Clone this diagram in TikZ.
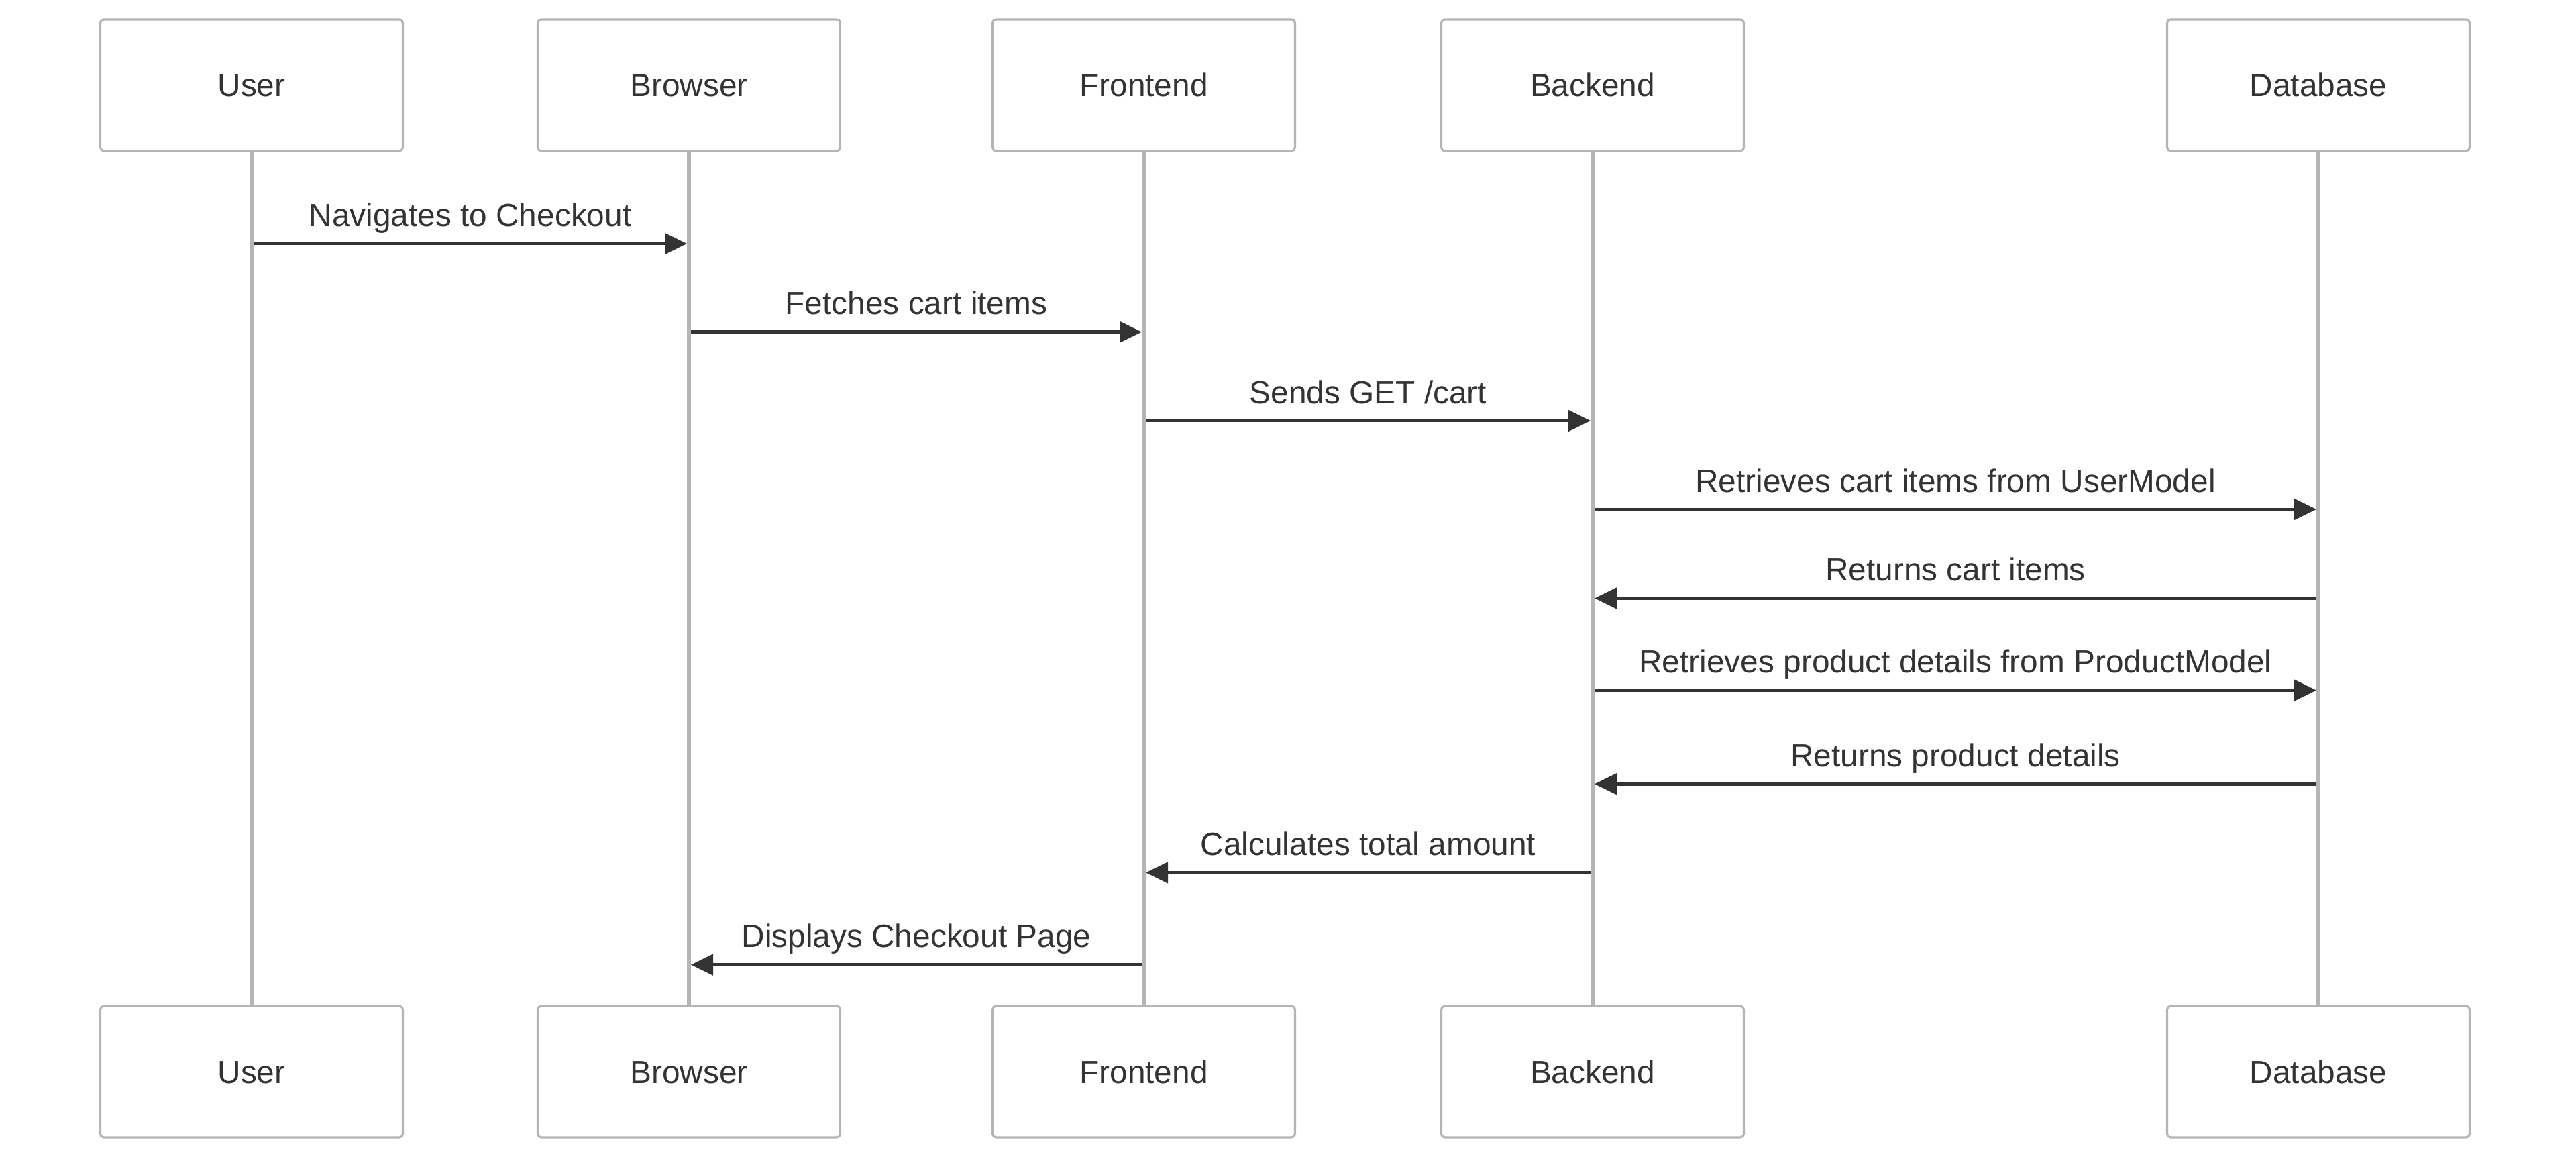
\documentclass[tikz,border=0pt]{standalone}
\usepackage{fontspec}
\setmainfont{Liberation Sans}
\usepackage{tikz}
\usetikzlibrary{arrows.meta}
\definecolor{lifegray}{HTML}{B5B5B5}
\definecolor{msgdark}{HTML}{333333}
\newcommand{\seqfont}{\fontsize{13.6}{16}\selectfont}

\begin{document}
\begin{tikzpicture}[line join=round,>={Triangle[length=0.33cm,width=0.31cm]},x=1cm,y=1cm,
  actor/.style={draw=lifegray,line width=0.9pt,rounded corners=1.5pt,fill=white,
    minimum width=4.51cm,minimum height=1.96cm,text=msgdark,font=\seqfont,
    text height=0.34cm,text depth=0pt},
  life/.style={draw=lifegray,line width=1.6pt},
  msg/.style={draw=msgdark,line width=1.35pt,->,shorten >=0.03cm,shorten <=0.03cm},
  lbl/.style={text=msgdark,font=\seqfont,inner sep=0pt,anchor=base,yshift=0.26cm}]
\useasboundingbox (0,0) rectangle (38.4,-17.32);
\node[actor] (userT) at (3.75,-1.27) {User};
\node[actor] (browserT) at (10.27,-1.27) {Browser};
\node[actor] (frontT) at (17.05,-1.27) {Frontend};
\node[actor] (backT) at (23.74,-1.27) {Backend};
\node[actor] (dbT) at (34.56,-1.27) {Database};
\node[actor] (userB) at (3.75,-15.97) {User};
\node[actor] (browserB) at (10.27,-15.97) {Browser};
\node[actor] (frontB) at (17.05,-15.97) {Frontend};
\node[actor] (backB) at (23.74,-15.97) {Backend};
\node[actor] (dbB) at (34.56,-15.97) {Database};
\draw[life] (userT) -- (userB);
\draw[life] (browserT) -- (browserB);
\draw[life] (frontT) -- (frontB);
\draw[life] (backT) -- (backB);
\draw[life] (dbT) -- (dbB);
\coordinate (r1) at (0,-3.63);
\coordinate (r2) at (0,-4.947);
\coordinate (r3) at (0,-6.27);
\coordinate (r4) at (0,-7.59);
\coordinate (r5) at (0,-8.914);
\coordinate (r6) at (0,-10.286);
\coordinate (r7) at (0,-11.682);
\coordinate (r8) at (0,-13.004);
\coordinate (r9) at (0,-14.376);
\draw[msg] (userT |- r1) -- node[lbl] {Navigates to Checkout} (browserT |- r1);
\draw[msg] (browserT |- r2) -- node[lbl] {Fetches cart items} (frontT |- r2);
\draw[msg] (frontT |- r3) -- node[lbl] {Sends GET /cart} (backT |- r3);
\draw[msg] (backT |- r4) -- node[lbl] {Retrieves cart items from UserModel} (dbT |- r4);
\draw[msg] (dbT |- r5) -- node[lbl] {Returns cart items} (backT |- r5);
\draw[msg] (backT |- r6) -- node[lbl] {Retrieves product details from ProductModel} (dbT |- r6);
\draw[msg] (dbT |- r7) -- node[lbl] {Returns product details} (backT |- r7);
\draw[msg] (backT |- r8) -- node[lbl] {Calculates total amount} (frontT |- r8);
\draw[msg] (frontT |- r9) -- node[lbl] {Displays Checkout Page} (browserT |- r9);
\end{tikzpicture}
\end{document}
